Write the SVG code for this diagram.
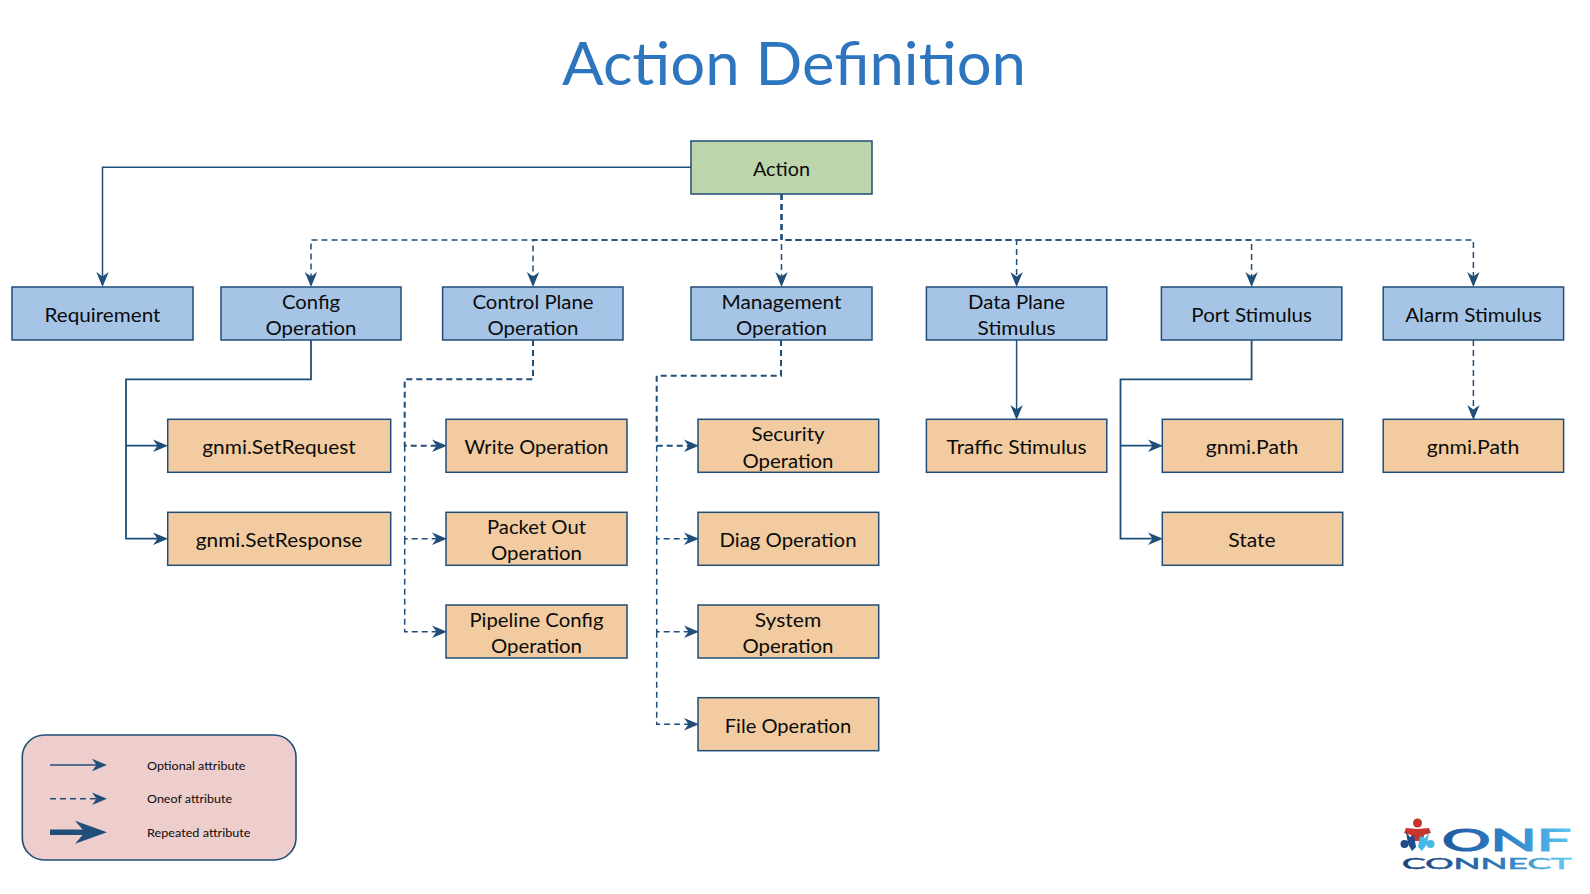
<svg xmlns="http://www.w3.org/2000/svg" width="1590" height="894" viewBox="0 0 1590 894">
<style>
text{font-family:"Lato","Open Sans",sans-serif;fill:#0b0b0b;text-anchor:middle}
.n{font-size:19.5px}
.l{font-size:12px;text-anchor:start}
.b rect{fill:#A6C5E6}.o rect{fill:#F2CBA0}.g rect{fill:#BDD5AB}
.b rect,.o rect,.g rect{stroke:#1F4E79;stroke-width:1.5}
#connectors path,#legend path{fill:none;stroke:#1F4E79}
.s{stroke-width:1.8;marker-end:url(#ah)}
.t{stroke-width:1.5;marker-end:url(#ah)}
.d{stroke-width:1.5;stroke-dasharray:6 4;marker-end:url(#ah)}
.dk{stroke-width:2;stroke-dasharray:6 4;marker-end:url(#ah)}
</style>
<defs>
<marker id="ah" markerUnits="userSpaceOnUse" markerWidth="15" markerHeight="14" refX="5" refY="7" orient="auto"><path d="M0 .8L15 7L0 13.2L4.5 7Z" fill="#1F4E79"/></marker>
<marker id="big" markerUnits="userSpaceOnUse" markerWidth="32" markerHeight="24" refX="10" refY="12" orient="auto"><path d="M0 .5L32 12L0 23.5L10 12Z" fill="#1F4E79"/></marker>
<linearGradient id="lg1" gradientUnits="userSpaceOnUse" x1="1442" y1="0" x2="1571" y2="0"><stop offset="0" stop-color="#1F5A9E"/><stop offset=".5" stop-color="#2F80C8"/><stop offset="1" stop-color="#5CC6F2"/></linearGradient>
<linearGradient id="lg2" gradientUnits="userSpaceOnUse" x1="1402" y1="0" x2="1572" y2="0"><stop offset="0" stop-color="#1B3F7A"/><stop offset=".55" stop-color="#2C74B8"/><stop offset="1" stop-color="#62CCF4"/></linearGradient>
</defs>
<rect width="1590" height="894" fill="#fff"/>
<text id="title" x="794" y="85" font-size="60" style="fill:#2E75BF" textLength="464" lengthAdjust="spacingAndGlyphs">Action Definition</text>
<g id="connectors">
<path class="t" d="M691 167.3H102.5V277"/>
<path class="d" d="M781.5 194V240H311V277"/>
<path class="d" d="M781.5 194V240H533V277"/>
<path class="d" d="M781.5 194V277"/>
<path class="d" d="M781.5 194V240H1016.6V277"/>
<path class="d" d="M781.5 194V240H1251.6V277"/>
<path class="d" d="M781.5 194V240H1473.4V277"/>
<path class="s" d="M311 340V379.3H126V445.7H158"/>
<path class="s" d="M126 445.7V538.7H158"/>
<path class="dk" d="M533 340V379.3H404.7V445.7H437"/>
<path class="d" d="M404.7 445.7V538.7H437"/>
<path class="d" d="M404.7 538.7V631.7H437"/>
<path class="dk" d="M781 340V375.7H656.7V445.7H689"/>
<path class="d" d="M656.7 445.7V538.7H689"/>
<path class="d" d="M656.7 538.7V631.7H689"/>
<path class="d" d="M656.7 631.7V724.3H689"/>
<path class="t" d="M1016.6 340V410"/>
<path class="s" d="M1251.6 340V379.3H1120.5V445.7H1153"/>
<path class="s" d="M1120.5 445.7V538.7H1153"/>
<path class="d" d="M1473.4 340V410"/>
</g>
<g id="action" class="g"><rect x="691" y="141" width="181" height="53"/><text class="n" x="781.5" y="175.7" textLength="57" lengthAdjust="spacingAndGlyphs">Action</text></g>
<g id="requirement" class="b"><rect x="12" y="287" width="181" height="53"/><text class="n" x="102.5" y="321.7" textLength="116" lengthAdjust="spacingAndGlyphs">Requirement</text></g>
<g id="config" class="b"><rect x="221" y="287" width="180" height="53"/><text class="n" x="311" y="309.3" textLength="58" lengthAdjust="spacingAndGlyphs">Config</text><text class="n" x="311" y="335" textLength="91" lengthAdjust="spacingAndGlyphs">Operation</text></g>
<g id="controlplane" class="b"><rect x="442.6" y="287" width="180.4" height="53"/><text class="n" x="533" y="309.3" textLength="121" lengthAdjust="spacingAndGlyphs">Control Plane</text><text class="n" x="533" y="335" textLength="91" lengthAdjust="spacingAndGlyphs">Operation</text></g>
<g id="management" class="b"><rect x="691" y="287" width="181" height="53"/><text class="n" x="781.5" y="309.3" textLength="120" lengthAdjust="spacingAndGlyphs">Management</text><text class="n" x="781.5" y="335" textLength="91" lengthAdjust="spacingAndGlyphs">Operation</text></g>
<g id="dataplane" class="b"><rect x="926.4" y="287" width="180.4" height="53"/><text class="n" x="1016.6" y="309.3" textLength="97" lengthAdjust="spacingAndGlyphs">Data Plane</text><text class="n" x="1016.6" y="335" textLength="78" lengthAdjust="spacingAndGlyphs">Stimulus</text></g>
<g id="port" class="b"><rect x="1161.4" y="287" width="180.4" height="53"/><text class="n" x="1251.6" y="321.7" textLength="120.5" lengthAdjust="spacingAndGlyphs">Port Stimulus</text></g>
<g id="alarm" class="b"><rect x="1383.2" y="287" width="180.4" height="53"/><text class="n" x="1473.4" y="321.7" textLength="136.5" lengthAdjust="spacingAndGlyphs">Alarm Stimulus</text></g>
<g id="setrequest" class="o"><rect x="167.7" y="419.3" width="223" height="53"/><text class="n" x="279" y="454" textLength="153.5" lengthAdjust="spacingAndGlyphs">gnmi.SetRequest</text></g>
<g id="setresponse" class="o"><rect x="167.7" y="512.3" width="223" height="53"/><text class="n" x="279" y="547" textLength="166.5" lengthAdjust="spacingAndGlyphs">gnmi.SetResponse</text></g>
<g id="write" class="o"><rect x="446" y="419.3" width="181" height="53"/><text class="n" x="536.5" y="454" textLength="144" lengthAdjust="spacingAndGlyphs">Write Operation</text></g>
<g id="packetout" class="o"><rect x="446" y="512.3" width="181" height="53"/><text class="n" x="536.5" y="534" textLength="99" lengthAdjust="spacingAndGlyphs">Packet Out</text><text class="n" x="536.5" y="560" textLength="91" lengthAdjust="spacingAndGlyphs">Operation</text></g>
<g id="pipeline" class="o"><rect x="446" y="605" width="181" height="53"/><text class="n" x="536.5" y="626.7" textLength="134" lengthAdjust="spacingAndGlyphs">Pipeline Config</text><text class="n" x="536.5" y="652.7" textLength="91" lengthAdjust="spacingAndGlyphs">Operation</text></g>
<g id="security" class="o"><rect x="698" y="419.3" width="180.7" height="53"/><text class="n" x="788" y="441" textLength="73" lengthAdjust="spacingAndGlyphs">Security</text><text class="n" x="788" y="467.7" textLength="91" lengthAdjust="spacingAndGlyphs">Operation</text></g>
<g id="diag" class="o"><rect x="698" y="512.3" width="180.7" height="53"/><text class="n" x="788" y="546.7" textLength="137" lengthAdjust="spacingAndGlyphs">Diag Operation</text></g>
<g id="system" class="o"><rect x="698" y="605" width="180.7" height="53"/><text class="n" x="788" y="626.7" textLength="66.5" lengthAdjust="spacingAndGlyphs">System</text><text class="n" x="788" y="652.7" textLength="91" lengthAdjust="spacingAndGlyphs">Operation</text></g>
<g id="file" class="o"><rect x="698" y="697.7" width="180.7" height="53"/><text class="n" x="788" y="733.3" textLength="126.5" lengthAdjust="spacingAndGlyphs">File Operation</text></g>
<g id="traffic" class="o"><rect x="926.4" y="419.3" width="180.4" height="53"/><text class="n" x="1016.6" y="454" textLength="140" lengthAdjust="spacingAndGlyphs">Traffic Stimulus</text></g>
<g id="path1" class="o"><rect x="1162.3" y="419.3" width="180.4" height="53"/><text class="n" x="1252" y="454" textLength="92.5" lengthAdjust="spacingAndGlyphs">gnmi.Path</text></g>
<g id="state" class="o"><rect x="1162.3" y="512.3" width="180.4" height="53"/><text class="n" x="1252" y="547.3" textLength="47.5" lengthAdjust="spacingAndGlyphs">State</text></g>
<g id="path2" class="o"><rect x="1383.2" y="419.3" width="180.4" height="53"/><text class="n" x="1473" y="454" textLength="92.5" lengthAdjust="spacingAndGlyphs">gnmi.Path</text></g>
<g id="legend">
<rect x="22.3" y="735" width="273.7" height="125" rx="22" fill="#EECECD" stroke="#1F4E79" stroke-width="1.6"/>
<path stroke-width="1.5" marker-end="url(#ah)" d="M50 765H97"/>
<path stroke-width="1.6" stroke-dasharray="6 4" marker-end="url(#ah)" d="M50 798.7H97"/>
<path stroke-width="5.5" marker-end="url(#big)" d="M50 832.3H85"/>
<text class="l" x="147" y="770" textLength="98.5" lengthAdjust="spacingAndGlyphs">Optional attribute</text>
<text class="l" x="147" y="803.3" textLength="85" lengthAdjust="spacingAndGlyphs">Oneof attribute</text>
<text class="l" x="147" y="837.3" textLength="103.5" lengthAdjust="spacingAndGlyphs">Repeated attribute</text>
</g>
<g id="logo">
<circle cx="1417.5" cy="823" r="4.5" fill="#C8352C"/>
<path d="M1406 828L1417.5 829L1429 828L1431 833L1424 835L1423 841L1412 841L1411 835L1404 833Z" fill="#C8352C"/>
<circle cx="1404.5" cy="844" r="4" fill="#1F4A8C"/>
<path d="M1406 832L1410 837L1414 835L1416 847L1412 851L1408 844Z" fill="#1F4A8C"/>
<circle cx="1430.5" cy="844" r="4" fill="#46B8E8"/>
<path d="M1429 833L1425 838L1420 836L1418 847L1422 851L1427 844Z" fill="#46B8E8"/>
<text x="1506.5" y="851" font-size="30" style="fill:url(#lg1);stroke:url(#lg1);stroke-width:1.2;font-family:Lato,sans-serif" textLength="129" lengthAdjust="spacingAndGlyphs">ONF</text>
<text x="1487" y="869" font-size="15" style="fill:url(#lg2);stroke:url(#lg2);stroke-width:.5;font-family:Lato,sans-serif" textLength="170" lengthAdjust="spacingAndGlyphs">CONNECT</text>
</g>
</svg>
